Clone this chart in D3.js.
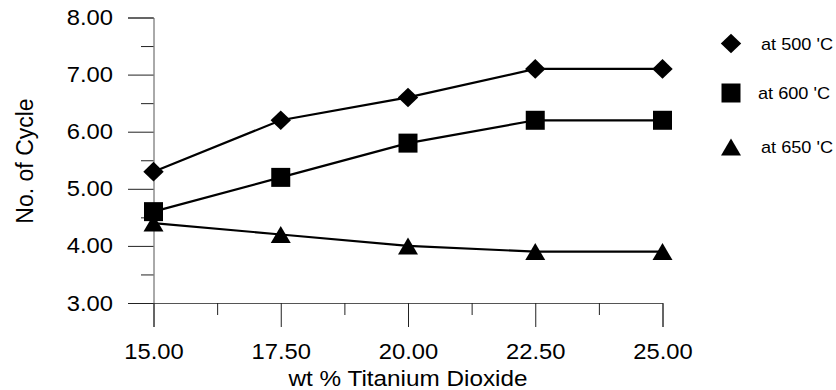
<!DOCTYPE html>
<html>
<head>
<meta charset="utf-8">
<script src="https://cdn.jsdelivr.net/npm/d3@7"></script>
<style>
  body { margin: 0; background: #fff; }
  text { font-family: "Liberation Sans", Arial, sans-serif; fill: #000; }
</style>
</head>
<body>
<div id="chart"></div>
<script>
// data
var wtPct = [15, 17.5, 20, 22.5, 25]
var at500 = [5.3, 6.2, 6.6, 7.1, 7.1]
var at600 = [4.6, 5.2, 5.8, 6.2, 6.2]
var at650 = [4.4, 4.2, 4.0, 3.9, 3.9]
var seriesNames = ["at 500 'C", "at 600 'C", "at 650 'C"]
var seriesShapes = ['diamond', 'square', 'triangle']
var xTicks = [15, 17.5, 20, 22.5, 25]
var xMinorTicks = [16.25, 18.75, 21.25, 23.75]
var yTicks = [3, 4, 5, 6, 7, 8]
var yMinorTicks = [3.5, 4.5, 5.5, 6.5, 7.5]

var width = 836
var height = 390
var plot = { left: 153.5, right: 662.5, top: 17.5, bottom: 303 }
// the original text looks a bit wider than Arial, stretch it sideways
var stretch = 1.08
var font = '"Liberation Sans", Arial, sans-serif'

var svg = d3
  .select('#chart')
  .append('svg')
  .attr('width', width)
  .attr('height', height)

var x = d3.scaleLinear().domain([15, 25]).range([plot.left, plot.right])
var y = d3.scaleLinear().domain([3, 8]).range([plot.bottom, plot.top])

// marker paths, centred on the point
function markerPath(shape) {
  if (shape === 'diamond') {
    var w = 10.2
    var h = 9.8
    return 'M0,' + -h + 'L' + w + ',0L0,' + h + 'L' + -w + ',0Z'
  }
  if (shape === 'square') {
    var s = 9.5
    return 'M' + -s + ',' + -s + 'H' + s + 'V' + s + 'H' + -s + 'Z'
  }
  var tw = 10
  var th = 8.5
  return 'M0,' + -th + 'L' + tw + ',' + th + 'L' + -tw + ',' + th + 'Z'
}

// y axis
var yAxis = d3
  .axisLeft(y)
  .tickValues(yTicks)
  .tickSize(25.5)
  .tickPadding(15)
  .tickFormat(d3.format('.2f'))
var gy = svg
  .append('g')
  .attr('transform', 'translate(' + plot.left + ',0)')
  .call(yAxis)
gy.selectAll('.tick text')
  .style('font-size', '22px')
  .style('font-family', font)
  .attr('fill', '#000')
  .attr('x', -40.5 / stretch)
  .attr('transform', 'scale(' + stretch + ',1)')
gy.selectAll('.tick line').attr('stroke', '#222')
gy.select('.domain').attr('stroke', '#555')

var gym = svg
  .append('g')
  .attr('transform', 'translate(' + plot.left + ',0)')
  .call(d3.axisLeft(y).tickValues(yMinorTicks).tickSize(12.5).tickFormat(''))
gym.select('.domain').remove()
gym.selectAll('.tick line').attr('stroke', '#222')

// x axis
var xAxis = d3
  .axisBottom(x)
  .tickValues(xTicks)
  .tickSize(24)
  .tickPadding(16.5)
  .tickFormat(d3.format('.2f'))
var gx = svg
  .append('g')
  .attr('transform', 'translate(0,' + plot.bottom + ')')
  .call(xAxis)
gx.selectAll('.tick text')
  .style('font-size', '22px')
  .style('font-family', font)
  .attr('fill', '#000')
  .attr('transform', 'scale(' + stretch + ',1)')
gx.selectAll('.tick line').attr('stroke', '#222')
gx.select('.domain').attr('stroke', '#555')

var gxm = svg
  .append('g')
  .attr('transform', 'translate(0,' + plot.bottom + ')')
  .call(d3.axisBottom(x).tickValues(xMinorTicks).tickSize(12).tickFormat(''))
gxm.select('.domain').remove()
gxm.selectAll('.tick line').attr('stroke', '#222')

// axis titles
svg
  .append('text')
  .attr('transform', 'translate(' + x(20) + ',386) scale(' + stretch + ',1)')
  .attr('text-anchor', 'middle')
  .style('font-size', '22.5px')
  .text('wt % Titanium Dioxide')

svg
  .append('text')
  .attr('transform', 'translate(33,161) rotate(-90)')
  .attr('text-anchor', 'middle')
  .style('font-size', '23px')
  .text('No. of Cycle')

// series
var allSeries = [at500, at600, at650]
var line = d3
  .line()
  .x((d, i) => x(wtPct[i]))
  .y(d => y(d))

allSeries.forEach((vals, k) => {
  svg
    .append('path')
    .attr('d', line(vals))
    .attr('fill', 'none')
    .attr('stroke', '#000')
    .attr('stroke-width', 2.2)

  svg
    .selectAll('.pt-' + k)
    .data(vals)
    .enter()
    .append('path')
    .attr('class', 'pt-' + k)
    .attr('d', markerPath(seriesShapes[k]))
    .attr('transform', (d, i) => 'translate(' + x(wtPct[i]) + ',' + y(d) + ')')
    .attr('fill', '#000')
})

// legend
var legendY = [43.5, 93, 147]
var legendTextX = [30, 27, 30]
var legend = svg
  .selectAll('.legend')
  .data(seriesNames)
  .enter()
  .append('g')
  .attr('class', 'legend')
  .attr('transform', (d, i) => 'translate(731,' + legendY[i] + ')')

legend
  .append('path')
  .attr('d', (d, i) => markerPath(seriesShapes[i]))
  .attr('fill', '#000')

legend
  .append('text')
  .attr('transform', (d, i) => 'translate(' + legendTextX[i] + ',6.3) scale(' + stretch + ',1)')
  .style('font-size', '16.8px')
  .text(d => d)
</script>
</body>
</html>
